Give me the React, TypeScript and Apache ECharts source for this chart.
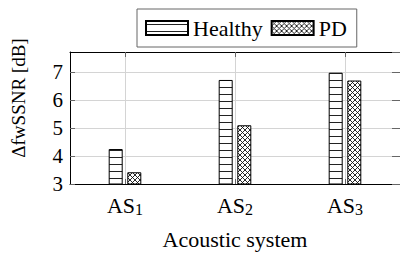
import React, { useEffect, useRef } from "react";
import * as echarts from "echarts";

const categories = ["AS1", "AS2", "AS3"];
const subscripts = ["1", "2", "3"];
const healthy = [4.25, 6.72, 6.98];
const pd = [3.42, 5.1, 6.7];
const seriesNames = ["Healthy", "PD"];
const yTicks = { min: 3, max: 7.72, interval: 1 };

const FONT = "Liberation Serif";

const hStripe =
  "data:image/svg+xml;utf8," +
  encodeURIComponent(
    "<svg xmlns='http://www.w3.org/2000/svg' width='4' height='7'><rect width='4' height='7' fill='white'/><rect y='3' width='4' height='1' fill='#222'/></svg>"
  );
const xHatch =
  "data:image/svg+xml;utf8," +
  encodeURIComponent(
    "<svg xmlns='http://www.w3.org/2000/svg' width='5' height='5'><rect width='5' height='5' fill='white'/><path d='M-1,-1L6,6M6,-1L-1,6M-1,4L1,6M4,-1L6,1M-1,1L1,-1M4,6L6,4' stroke='#111' stroke-width='0.9' fill='none'/></svg>"
  );

export default function App() {
  const ref = useRef<HTMLDivElement>(null);
  useEffect(() => {
    const chart = echarts.init(ref.current!, null, { renderer: "svg" });
    const barStyle = (img: string, w: number, h: number) => ({
      color: { image: img, repeat: "repeat", imageWidth: w, imageHeight: h } as any,
      borderColor: "#000",
      borderWidth: 1,
    });
    chart.setOption({
      animation: false,
      backgroundColor: "#fff",
      textStyle: { fontFamily: FONT },
      grid: { left: 70, right: 0, top: 52, bottom: 66, containLabel: false },
      legend: {
        data: seriesNames,
        left: 137,
        top: 9,
        icon: "rect",
        itemWidth: 42,
        itemHeight: 14,
        itemGap: 8,
        padding: [8, 10, 8, 8],
        borderColor: "#666",
        borderWidth: 1,
        textStyle: { fontFamily: FONT, fontSize: 22, color: "#000" },
      },
      xAxis: [
        {
          type: "category",
          data: categories,
          boundaryGap: true,
          name: "Acoustic system",
          nameLocation: "middle",
          nameGap: 44,
          nameTextStyle: { fontFamily: FONT, fontSize: 22, color: "#000" },
          axisLine: { lineStyle: { color: "#000", width: 1 } },
          axisTick: { show: true, inside: true, alignWithLabel: true, length: 5, lineStyle: { color: "#666" } },
          splitLine: { show: true, alignWithLabel: true, lineStyle: { color: "#d4d4d4", width: 1 } },
          axisLabel: {
            margin: 9,
            formatter: (v: string, i: number) => `{a|AS}{s|${subscripts[i]}}`,
            rich: {
              a: { fontFamily: FONT, fontSize: 22, color: "#000" },
              s: { fontFamily: FONT, fontSize: 16, color: "#000", padding: [8, 0, 0, 0] },
            },
          },
        },
        {
          type: "category",
          data: categories,
          position: "top",
          axisLine: { show: true, lineStyle: { color: "#000", width: 1 } },
          axisTick: { show: true, inside: true, alignWithLabel: true, length: 5, lineStyle: { color: "#666" } },
          axisLabel: { show: false },
          splitLine: { show: false },
        },
      ],
      yAxis: [
        {
          type: "value",
          min: yTicks.min,
          max: yTicks.max,
          interval: yTicks.interval,
          axisLine: { show: true, lineStyle: { color: "#000", width: 1 } },
          axisTick: { show: true, inside: true, length: 5, lineStyle: { color: "#666" } },
          splitLine: { show: true, lineStyle: { color: "#d4d4d4", width: 1 } },
          axisLabel: {
            margin: 7,
            fontFamily: FONT,
            fontSize: 21,
            color: "#000",
            showMaxLabel: false,
            formatter: (v: number) => (Number.isInteger(v) ? String(v) : ""),
          },
        },
        {
          type: "value",
          min: yTicks.min,
          max: yTicks.max,
          interval: yTicks.interval,
          position: "right",
          axisLine: { show: false },
          axisTick: { show: true, inside: true, length: 8, lineStyle: { color: "#666" } },
          axisLabel: { show: false },
          splitLine: { show: false },
        },
      ],
      graphic: [
        {
          type: "text",
          x: 18,
          y: 98,
          rotation: Math.PI / 2,
          style: {
            text: "ΔfwSSNR [dB]",
            fontFamily: FONT,
            fontSize: 19,
            fill: "#000",
            align: "center",
            verticalAlign: "middle",
          },
        },
      ],
      series: [
        {
          name: seriesNames[0],
          type: "bar",
          data: healthy,
          barWidth: 14,
          barGap: "33%",
          itemStyle: barStyle(hStripe, 4, 7),
        },
        {
          name: seriesNames[1],
          type: "bar",
          data: pd,
          barWidth: 14,
          barGap: "33%",
          itemStyle: barStyle(xHatch, 5, 5),
        },
      ],
    });
    return () => chart.dispose();
  }, []);
  return (
    <div
      ref={ref}
      style={{ position: "fixed", left: 0, top: 0, width: 400, height: 255 }}
    />
  );
}
